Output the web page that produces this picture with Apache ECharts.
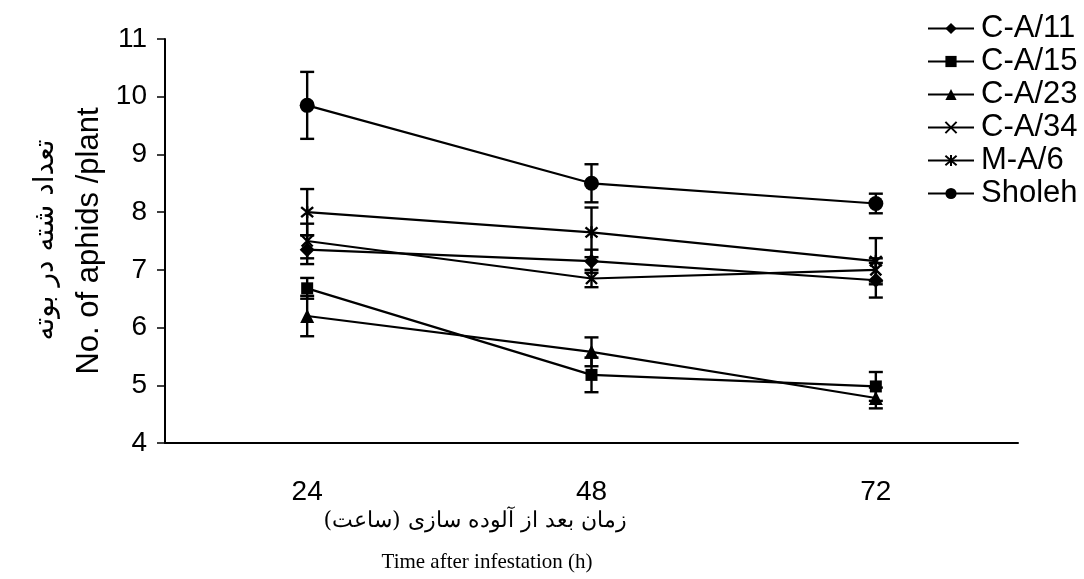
<!DOCTYPE html>
<html>
<head>
<meta charset="utf-8">
<script src="https://cdn.jsdelivr.net/npm/echarts@6/dist/echarts.min.js"></script>
<style>
  html, body { margin: 0; padding: 0; background: #fff; }
  #chart { width: 1084px; height: 579px; }
</style>
</head>
<body>
<div id="chart"></div>
<script>
const hours = ["24", "48", "72"];
const seriesNames = ["C-A/11", "C-A/15", "C-A/23", "C-A/34", "M-A/6", "Sholeh"];

// mean number of aphids per plant
const ca11 = [7.35, 7.15, 6.82];
const ca15 = [6.68, 5.18, 4.98];
const ca23 = [6.2, 5.58, 4.78];
const ca34 = [7.5, 6.85, 7.0];
const ma6 = [8.0, 7.65, 7.15];
const sholeh = [9.85, 8.5, 8.15];

// standard error (half bar length)
const ca11Err = [0.25, 0.2, 0.3];
const ca15Err = [0.18, 0.3, 0.25];
const ca23Err = [0.35, 0.25, 0.18];
const ca34Err = [0.3, 0.15, 0.2];
const ma6Err = [0.4, 0.43, 0.4];
const sholehErr = [0.58, 0.33, 0.17];

const yTicks = [4, 5, 6, 7, 8, 9, 10, 11];

const means = [ca11, ca15, ca23, ca34, ma6, sholeh];
const errs = [ca11Err, ca15Err, ca23Err, ca34Err, ma6Err, sholehErr];

const symbols = [
  { symbol: "diamond", size: 15 },
  { symbol: "rect", size: 12 },
  { symbol: "triangle", size: 14 },
  { symbol: "path://M0,0L10,10M10,0L0,10", size: 11 },
  { symbol: "path://M0,0L10,10M10,0L0,10M5,-1L5,11", size: 12 },
  { symbol: "circle", size: 15 },
];

const errData = [];
means.forEach((m, s) => {
  m.forEach((v, i) => {
    errData.push([i, v - errs[s][i], v + errs[s][i]]);
  });
});

const chart = echarts.init(document.getElementById("chart"));

const lineSeries = seriesNames.map((name, s) => ({
  name: name,
  type: "line",
  data: means[s],
  symbol: symbols[s].symbol,
  symbolSize: symbols[s].size,
  z: 3,
  lineStyle: { color: "#000", width: 2.2 },
  itemStyle: {
    color: "#000",
    borderColor: "#000",
    borderWidth: s >= 3 && s <= 4 ? 2.4 : 0,
  },
  emphasis: { disabled: true },
}));

chart.setOption({
  animation: false,
  grid: { left: 165, top: 39, right: 66, bottom: 136 },
  legend: {
    data: seriesNames,
    orient: "vertical",
    left: 922,
    top: 7,
    itemWidth: 46,
    itemHeight: 14,
    itemGap: 0,
    textStyle: {
      fontFamily: "Liberation Sans, Arial, sans-serif",
      fontSize: 31,
      lineHeight: 33,
      color: "#000",
      padding: [0, 0, 0, 2],
    },
  },
  xAxis: {
    type: "category",
    data: hours,
    boundaryGap: true,
    axisLine: { lineStyle: { color: "#000", width: 2 } },
    axisTick: { inside: false, length: 10, lineStyle: { color: "#000", width: 2 } },
    axisLabel: {
      color: "#000",
      fontFamily: "Liberation Sans Narrow, Arial Narrow, sans-serif",
      fontSize: 28,
      margin: 35,
    },
  },
  yAxis: {
    type: "value",
    min: yTicks[0],
    max: yTicks[yTicks.length - 1],
    interval: 1,
    splitLine: { show: false },
    axisLine: { show: true, lineStyle: { color: "#000", width: 2 } },
    axisTick: { show: true, length: 8, lineStyle: { color: "#000", width: 1.5 } },
    axisLabel: {
      color: "#000",
      fontFamily: "Liberation Sans, Arial, sans-serif",
      fontSize: 28,
      margin: 18,
    },
    name: "No. of aphids /plant",
    nameLocation: "middle",
    nameGap: 56,
    nameTextStyle: {
      color: "#000",
      fontFamily: "Liberation Sans, Arial, sans-serif",
      fontSize: 31,
    },
  },
  graphic: [
    {
      type: "text",
      x: 46,
      y: 240,
      rotation: Math.PI / 2,
      style: {
        text: "تعداد شته در بوته",
        font: "28px 'DejaVu Sans', 'Noto Sans', sans-serif",
        fill: "#000",
        align: "center",
        verticalAlign: "middle",
      },
    },
    {
      type: "text",
      x: 475,
      y: 521,
      style: {
        text: "زمان بعد از آلوده سازی (ساعت)",
        font: "22px 'DejaVu Serif', 'Liberation Serif', serif",
        fill: "#000",
        align: "center",
        verticalAlign: "middle",
      },
    },
    {
      type: "text",
      x: 487,
      y: 562,
      style: {
        text: "Time after infestation (h)",
        font: "21px 'Liberation Serif', 'Times New Roman', serif",
        fill: "#000",
        align: "center",
        verticalAlign: "middle",
      },
    },
  ],
  series: [
    ...lineSeries,
    {
      name: "error",
      type: "custom",
      z: 2,
      silent: true,
      data: errData,
      renderItem: (params, api) => {
        const x = api.value(0);
        const lo = api.coord([x, api.value(1)]);
        const hi = api.coord([x, api.value(2)]);
        const w = 7;
        const style = { stroke: "#000", lineWidth: 2.4 };
        return {
          type: "group",
          children: [
            { type: "line", shape: { x1: lo[0], y1: lo[1], x2: hi[0], y2: hi[1] }, style },
            { type: "line", shape: { x1: lo[0] - w, y1: lo[1], x2: lo[0] + w, y2: lo[1] }, style },
            { type: "line", shape: { x1: hi[0] - w, y1: hi[1], x2: hi[0] + w, y2: hi[1] }, style },
          ],
        };
      },
    },
  ],
});
</script>
</body>
</html>
